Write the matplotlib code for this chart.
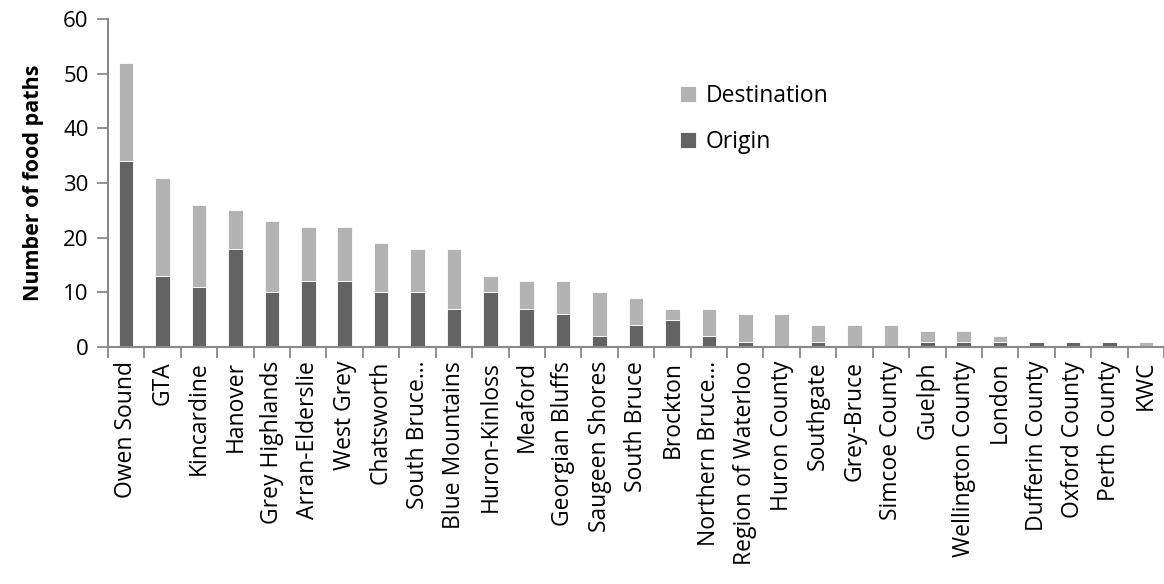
import matplotlib
matplotlib.use("Agg")
import matplotlib.pyplot as plt
import numpy as np

places = ["Owen Sound", "GTA", "Kincardine", "Hanover", "Grey Highlands",
          "Arran-Elderslie", "West Grey", "Chatsworth", "South Bruce\u2026",
          "Blue Mountains", "Huron-Kinloss", "Meaford", "Georgian Bluffs",
          "Saugeen Shores", "South Bruce", "Brockton", "Northern Bruce\u2026",
          "Region of Waterloo", "Huron County", "Southgate", "Grey-Bruce",
          "Simcoe County", "Guelph", "Wellington County", "London",
          "Dufferin County", "Oxford County", "Perth County", "KWC"]
origin = [34, 13, 11, 18, 10, 12, 12, 10, 10, 7, 10, 7, 6, 2, 4, 5, 2,
          1, 0, 1, 0, 0, 1, 1, 1, 1, 1, 1, 0]
destination = [18, 18, 15, 7, 13, 10, 10, 9, 8, 11, 3, 5, 6, 8, 5, 2, 5,
               5, 6, 3, 4, 4, 2, 2, 1, 0, 0, 0, 1]

plt.rcParams['font.family'] = ['Open Sans', 'DejaVu Sans']

fig = plt.figure(figsize=(11.64, 5.84), dpi=100)
ax = fig.add_axes([108/1164, 1 - 347/584, 1 - 108/1164, (347 - 19)/584])

x = np.arange(len(places))
dark = "#636363"
light = "#b3b3b3"
ax.bar(x, origin, width=0.4, color=dark, edgecolor="white", linewidth=0.6,
       label="Origin")
ax.bar(x, destination, width=0.4, bottom=origin, color=light,
       edgecolor="white", linewidth=0.6, label="Destination")

ax.set_xlim(-0.5, len(places) - 0.5)
ax.set_ylim(0, 60)
ax.set_yticks(range(0, 61, 10))
ax.set_xticks(x)
ax.set_xticklabels(places, rotation=90, fontsize=16.5)
ax.set_xticks(np.arange(-0.5, len(places) - 0.4, 1), minor=True)
ax.tick_params(axis="x", which="major", length=0, pad=10)
ax.tick_params(axis="x", which="minor", length=8, width=1.3, color="#898989")
ax.tick_params(axis="y", length=8, width=1.3, color="#898989", labelsize=16,
               pad=6)

for s in ["top", "right"]:
    ax.spines[s].set_visible(False)
for s in ["left", "bottom"]:
    ax.spines[s].set_color("#898989")
    ax.spines[s].set_linewidth(1.5)

ax.set_ylabel("Number of food paths", fontsize=15.5, fontweight="bold",
              labelpad=14)

h, l = ax.get_legend_handles_labels()
ax.legend(h[::-1], l[::-1], loc="upper left",
          bbox_to_anchor=(671/1164, 1 - 75/584), bbox_transform=fig.transFigure,
          frameon=False, fontsize=16.5, handlelength=0.7, handleheight=0.7,
          handletextpad=0.4, labelspacing=0.95, borderaxespad=0)

fig.savefig("out.png", dpi=100)
